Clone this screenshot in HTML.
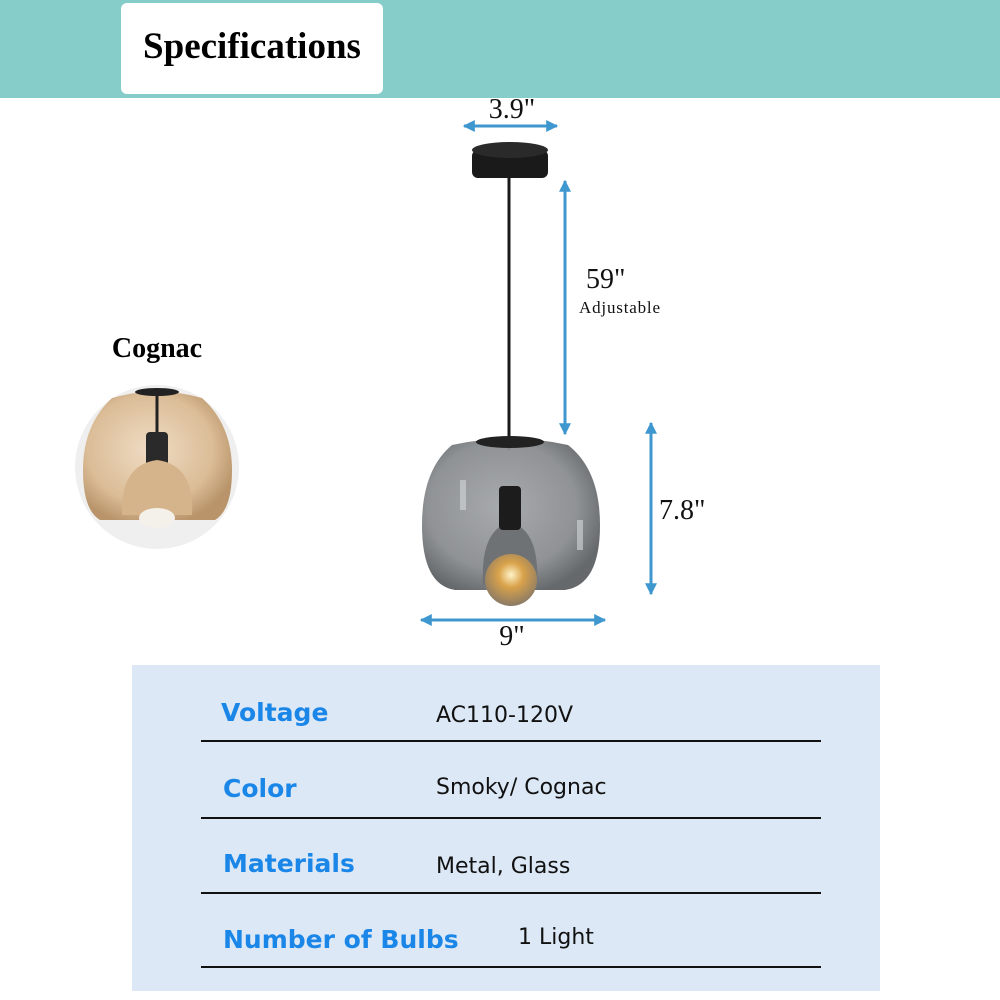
<!DOCTYPE html>
<html><head><meta charset="utf-8"><style>
html,body{margin:0;padding:0;background:#fff;}
svg{display:block}
.ser{font-family:"Liberation Serif","DejaVu Serif",serif;}
.lab{font-family:"DejaVu Sans","Liberation Sans",sans-serif;font-weight:bold;fill:#1a86e8;font-size:25px;}
.val{font-family:"DejaVu Sans","Liberation Sans",sans-serif;fill:#111;font-size:22px;}
</style></head><body>
<svg width="1000" height="1000" viewBox="0 0 1000 1000" xmlns="http://www.w3.org/2000/svg">
<defs>
<marker id="ah" viewBox="0 0 10 10" refX="9" refY="5" markerWidth="5" markerHeight="4" orient="auto-start-reverse" markerUnits="strokeWidth">
<path d="M0,0 L10,5 L0,10 z" fill="#3f97cf"/></marker>
<radialGradient id="smk" cx="0.45" cy="0.45" r="0.6">
<stop offset="0" stop-color="#a3a6a8"/><stop offset="0.7" stop-color="#8a8d90"/><stop offset="1" stop-color="#5d6164"/></radialGradient>
<radialGradient id="cog" cx="0.45" cy="0.45" r="0.6">
<stop offset="0" stop-color="#efdcc4"/><stop offset="0.7" stop-color="#dbbd97"/><stop offset="1" stop-color="#b9946a"/></radialGradient>
<radialGradient id="bulb" cx="0.5" cy="0.4" r="0.6">
<stop offset="0" stop-color="#fff3c8"/><stop offset="0.4" stop-color="#d9a24a"/><stop offset="1" stop-color="#8a7a66"/></radialGradient>
</defs>
<rect x="0" y="0" width="1000" height="98" fill="#86cdc9"/>
<rect x="121" y="3" width="262" height="91" rx="6" fill="#fff"/>
<text x="252" y="58" text-anchor="middle" class="ser" font-size="37" font-weight="bold" fill="#000">Specifications</text>

<rect x="472" y="150" width="76" height="28" rx="6" fill="#1a1a1a"/>
<ellipse cx="510" cy="150" rx="38" ry="8" fill="#2a2a2a"/>
<line x1="509" y1="176" x2="509" y2="450" stroke="#1a1a1a" stroke-width="3"/>
<line x1="464" y1="126" x2="557" y2="126" stroke="#3f97cf" stroke-width="3" marker-start="url(#ah)" marker-end="url(#ah)"/>
<text x="512" y="118" text-anchor="middle" class="ser" font-size="28" fill="#111">3.9"</text>
<line x1="565" y1="181" x2="565" y2="434" stroke="#3f97cf" stroke-width="3" marker-start="url(#ah)" marker-end="url(#ah)"/>
<text x="586" y="288" class="ser" font-size="28" fill="#111">59"</text>
<text x="579" y="313" class="ser" font-size="17" fill="#111" textLength="81">Adjustable</text>
<line x1="651" y1="423" x2="651" y2="594" stroke="#3f97cf" stroke-width="3" marker-start="url(#ah)" marker-end="url(#ah)"/>
<text x="659" y="519" class="ser" font-size="28" fill="#111">7.8"</text>
<line x1="421" y1="620" x2="605" y2="620" stroke="#3f97cf" stroke-width="3" marker-start="url(#ah)" marker-end="url(#ah)"/>
<text x="512" y="645" text-anchor="middle" class="ser" font-size="28" fill="#111">9"</text>

<path d="M452,445 Q510,432 568,445 Q600,470 600,525 Q600,585 565,590 L455,590 Q422,585 422,525 Q422,470 452,445 z" fill="url(#smk)" opacity="0.95"/>
<ellipse cx="510" cy="442" rx="34" ry="6" fill="#222"/>
<path d="M483,585 Q480,530 510,522 Q540,530 537,585 z" fill="#6f7274"/>
<circle cx="511" cy="580" r="26" fill="url(#bulb)"/>
<rect x="499" y="486" width="22" height="44" rx="4" fill="#1c1c1c"/>
<rect x="460" y="480" width="6" height="30" fill="#d6d8da" opacity="0.6"/>
<rect x="577" y="520" width="6" height="30" fill="#d6d8da" opacity="0.6"/>

<text x="157" y="357" text-anchor="middle" class="ser" font-size="28" font-weight="bold" fill="#000">Cognac</text>
<circle cx="157" cy="467" r="82" fill="#efefef"/>
<path d="M112,398 Q157,385 202,398 Q232,425 232,470 Q232,510 215,520 L100,520 Q83,510 83,470 Q83,425 112,398 z" fill="url(#cog)"/>
<ellipse cx="157" cy="392" rx="22" ry="4" fill="#222"/>
<line x1="157" y1="392" x2="157" y2="440" stroke="#222" stroke-width="3"/>
<rect x="146" y="432" width="22" height="40" rx="4" fill="#2a2a2a"/>
<path d="M122,515 Q120,465 157,460 Q195,465 192,515 z" fill="#d6b48b"/>
<ellipse cx="157" cy="518" rx="18" ry="10" fill="#f4f0ea"/>

<rect x="132" y="665" width="748" height="326" fill="#dce8f5"/>
<g stroke="#111" stroke-width="2">
<line x1="201" y1="741" x2="821" y2="741"/>
<line x1="201" y1="818" x2="821" y2="818"/>
<line x1="201" y1="893" x2="821" y2="893"/>
<line x1="201" y1="967" x2="821" y2="967"/>
</g>
<text x="221" y="721" class="lab">Voltage</text>
<text x="436" y="722" class="val">AC110-120V</text>
<text x="223" y="797" class="lab">Color</text>
<text x="436" y="794" class="val">Smoky/ Cognac</text>
<text x="223" y="872" class="lab">Materials</text>
<text x="436" y="873" class="val">Metal, Glass</text>
<text x="223" y="948" class="lab">Number of Bulbs</text>
<text x="518" y="944" class="val">1 Light</text>
</svg>
</body></html>
